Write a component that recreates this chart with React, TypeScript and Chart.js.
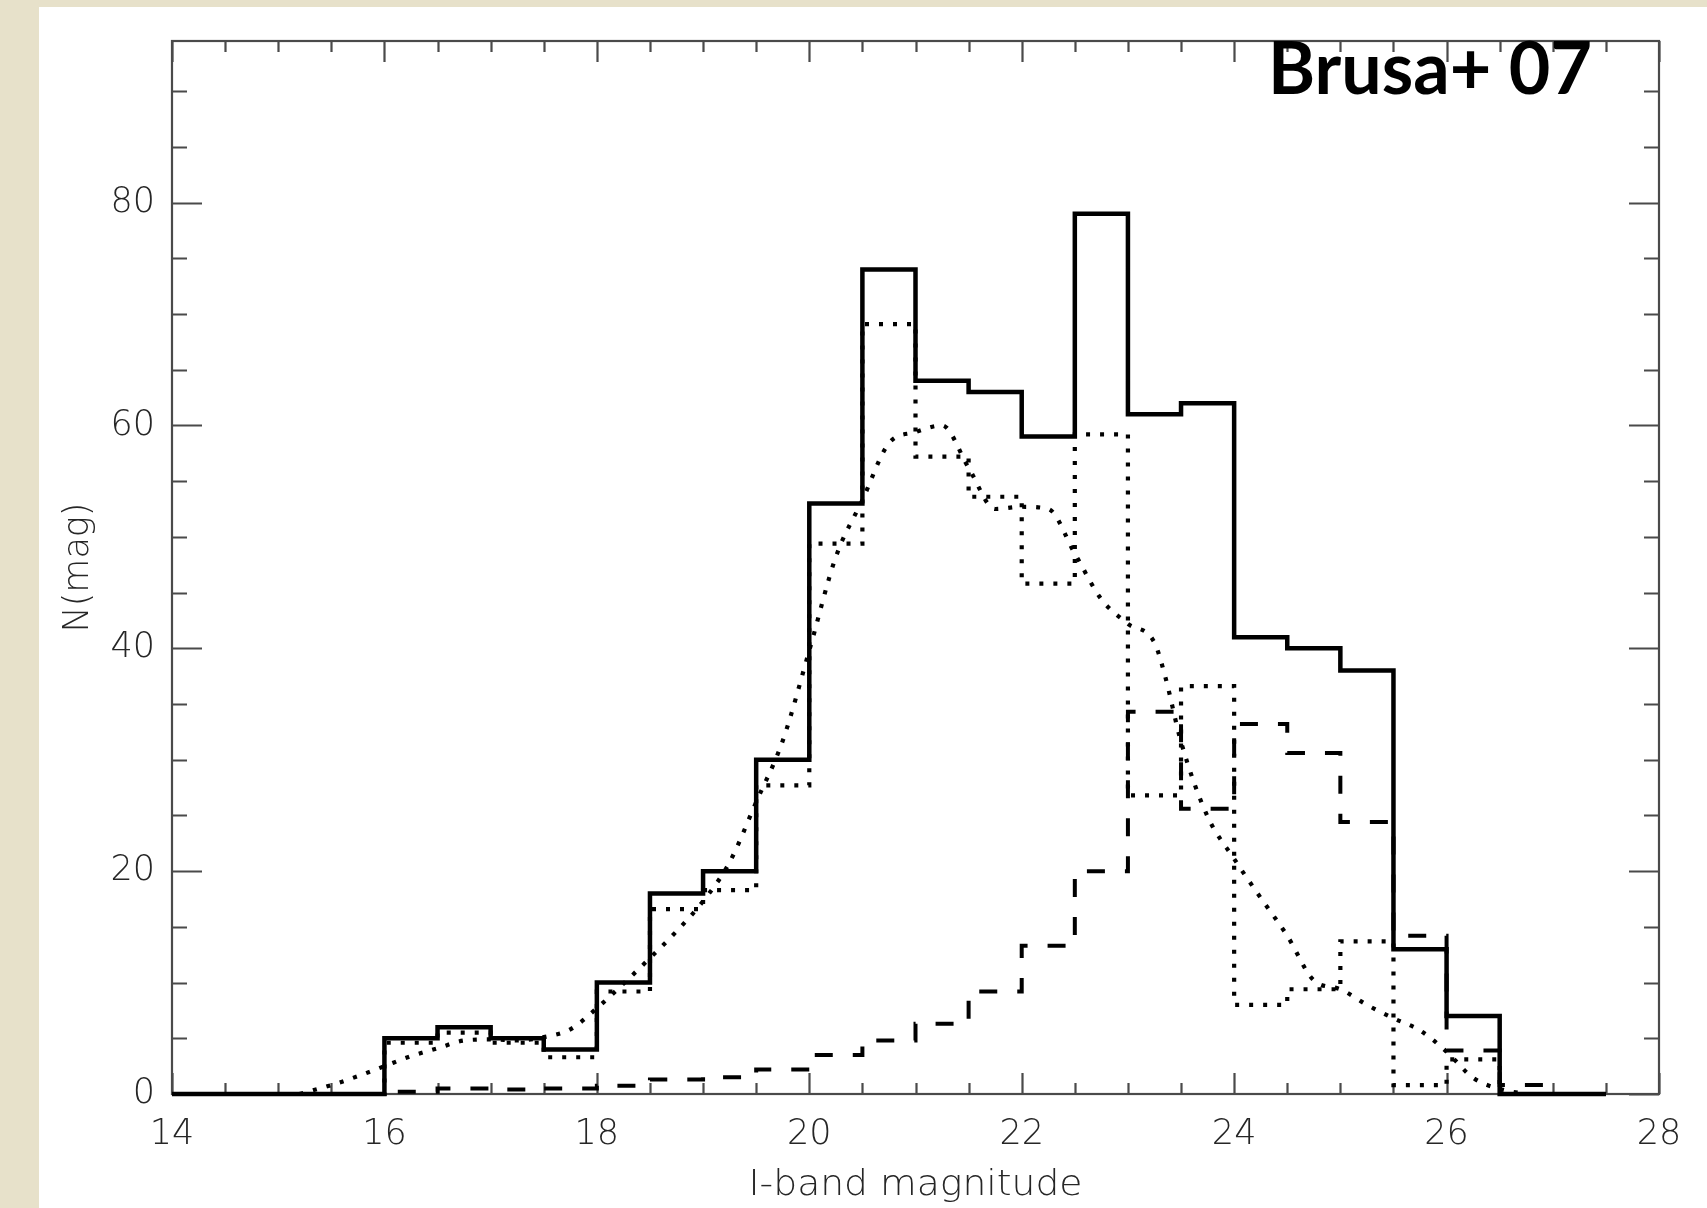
import { useEffect, useRef } from "react";
import { Chart, registerables } from "chart.js";

Chart.register(...registerables);

// Histogram bins: left edges of 0.5-mag bins (the last edge closes the final bin)
const binEdges = [
  14.0, 14.5, 15.0, 15.5, 16.0, 16.5, 17.0, 17.5, 18.0, 18.5, 19.0, 19.5, 20.0, 20.5,
  21.0, 21.5, 22.0, 22.5, 23.0, 23.5, 24.0, 24.5, 25.0, 25.5, 26.0, 26.5, 27.0, 27.5,
];

// Total sample (solid histogram)
const totalCounts = [
  0, 0, 0, 0, 5, 6, 5, 4, 10, 18, 20, 30, 53, 74, 64, 63, 59, 79, 61, 62, 41, 40, 38, 13, 7, 0, 0,
];

// Dotted histogram
const dottedCounts = [
  0, 0, 0, 0, 4.6, 5.5, 4.6, 3.3, 9.2, 16.6, 18.3, 27.7, 49.4, 69.1, 57.2, 53.6, 45.8, 59.2,
  26.8, 36.6, 8.0, 9.4, 13.7, 0.8, 3.1, 0, 0,
];

// Dashed histogram
const dashedCounts = [
  0, 0, 0, 0, 0.2, 0.5, 0.4, 0.5, 0.75, 1.3, 1.5, 2.2, 3.5, 4.8, 6.3, 9.2, 13.3, 20.0, 34.3,
  25.6, 33.2, 30.6, 24.4, 14.2, 3.9, 0.8, 0,
];

// Smooth dotted model curve
const modelMag = [
  15.2, 15.5, 15.75, 16.0, 16.25, 16.5, 16.75, 17.0, 17.25, 17.5, 17.75, 18.0, 18.25, 18.5,
  18.75, 19.0, 19.25, 19.5, 19.75, 20.0, 20.25, 20.5, 20.75, 21.0, 21.25, 21.5, 21.75, 22.0,
  22.25, 22.5, 22.75, 23.0, 23.25, 23.35, 23.5, 23.75, 24.0, 24.25, 24.5, 24.75, 25.0, 25.25,
  25.5, 25.75, 26.0, 26.25, 26.5, 26.75,
];
const modelN = [
  0, 0.8, 1.6, 2.5, 3.4, 4.1, 4.8, 4.9, 4.8, 5.1, 5.8, 7.7, 9.9, 12.2, 14.6, 17.3, 20.8, 26.2,
  31.7, 39.8, 48.2, 53.3, 58.4, 59.4, 60.0, 56.2, 52.5, 52.7, 52.5, 48.5, 44.4, 42.2, 40.5,
  37.5, 31.6, 24.9, 21.1, 17.6, 14.2, 10.2, 9.4, 8.0, 6.8, 5.7, 3.8, 1.45, 0.45, 0,
];

// Axis setup
const xMin = 14;
const xMax = 28;
const xTickStep = 2;
const yMin = 0;
const yMax = 94.5;
const yTickStep = 20;

const xTitle = "I-band magnitude";
const yTitle = "N(mag)";
const cornerLabel = "Brusa+ 07";

const W = 1707;
const H = 1208;
const TEXT_FONT = "'DejaVu Sans', sans-serif";
const AXIS_COLOR = "#4a4a4a";
const TEXT_COLOR = "#262626";

function histPoints(counts: number[]) {
  const pts = counts.map((v, i) => ({ x: binEdges[i], y: v }));
  pts.push({ x: binEdges[binEdges.length - 1], y: counts[counts.length - 1] });
  return pts;
}

const framePlugin = {
  id: "frame",
  beforeDraw(chart: any) {
    const { ctx } = chart;
    ctx.save();
    ctx.fillStyle = "#e7e1ca";
    ctx.fillRect(0, 0, W, H);
    ctx.fillStyle = "#ffffff";
    ctx.fillRect(39, 7, W - 39, H - 7);
    ctx.restore();
  },
  beforeDatasetsDraw(chart: any) {
    const { ctx, chartArea } = chart;
    const { left, right, top, bottom } = chartArea;
    const xs = chart.scales.x;
    const ys = chart.scales.y;
    ctx.save();
    ctx.strokeStyle = AXIS_COLOR;
    ctx.lineWidth = 2.2;
    ctx.strokeRect(left, top, right - left, bottom - top);
    ctx.beginPath();
    for (let v = xMin; v <= xMax + 1e-9; v += 0.5) {
      const px = Math.round(xs.getPixelForValue(v)) + 0.5;
      const major = Math.abs(v / xTickStep - Math.round(v / xTickStep)) < 1e-6;
      const len = major ? 21 : 11;
      ctx.moveTo(px, bottom);
      ctx.lineTo(px, bottom - len);
      ctx.moveTo(px, top);
      ctx.lineTo(px, top + len);
    }
    for (let v = yMin; v <= yMax + 1e-9; v += 5) {
      const py = Math.round(ys.getPixelForValue(v)) + 0.5;
      const major = Math.abs(v / yTickStep - Math.round(v / yTickStep)) < 1e-6;
      const len = major ? 30 : 15;
      ctx.moveTo(left, py);
      ctx.lineTo(left + len, py);
      ctx.moveTo(right, py);
      ctx.lineTo(right - len, py);
    }
    ctx.stroke();
    ctx.restore();
  },
  afterDraw(chart: any) {
    const { ctx, chartArea } = chart;
    ctx.save();
    ctx.fillStyle = TEXT_COLOR;
    ctx.font = `200 35px ${TEXT_FONT}`;
    ctx.textAlign = "center";
    ctx.textBaseline = "alphabetic";
    // Axis titles, stretched slightly to the wide look of the plot's font
    const xw = ctx.measureText(xTitle).width;
    ctx.save();
    ctx.translate((chartArea.left + chartArea.right) / 2, 1195);
    ctx.scale(334 / xw, 1);
    ctx.fillText(xTitle, 0, 0);
    ctx.restore();

    ctx.save();
    ctx.translate(88, (chartArea.top + chartArea.bottom) / 2);
    ctx.rotate(-Math.PI / 2);
    ctx.fillText(yTitle, 0, 0);
    ctx.restore();

    // Corner label, bold, fitted to its box
    ctx.fillStyle = "#000000";
    ctx.font = `bold 72px Lato, 'Open Sans', sans-serif`;
    ctx.textAlign = "left";
    const w = ctx.measureText(cornerLabel).width;
    ctx.translate(1268, 94);
    ctx.scale(324 / w, 1);
    ctx.fillText(cornerLabel, 0, 0);
    ctx.restore();
  },
};

export default function App() {
  const canvasRef = useRef<HTMLCanvasElement | null>(null);

  useEffect(() => {
    const canvas = canvasRef.current;
    if (!canvas) return;
    const tickFont = { family: TEXT_FONT, size: 35, weight: 200 as any };

    const dotted = {
      borderColor: "#000000",
      borderWidth: 4.2,
      borderDash: [4, 10],
      borderCapStyle: "butt" as const,
      pointRadius: 0,
      fill: false,
      clip: false as any,
    };

    const chart = new Chart(canvas, {
      type: "line",
      data: {
        datasets: [
          {
            label: "total",
            data: histPoints(totalCounts),
            stepped: "before",
            borderColor: "#000000",
            borderWidth: 4.5,
            pointRadius: 0,
            fill: false,
            clip: false as any,
          },
          {
            label: "dotted",
            data: histPoints(dottedCounts),
            stepped: "before",
            ...dotted,
          },
          {
            label: "dashed",
            data: histPoints(dashedCounts),
            stepped: "before",
            borderColor: "#000000",
            borderWidth: 4,
            borderDash: [18, 20],
            borderCapStyle: "butt",
            pointRadius: 0,
            fill: false,
            clip: false as any,
          },
          {
            label: "model",
            data: modelMag.map((m, i) => ({ x: m, y: modelN[i] })),
            cubicInterpolationMode: "monotone",
            ...dotted,
          },
        ],
      },
      options: {
        animation: false,
        responsive: false,
        maintainAspectRatio: false,
        devicePixelRatio: 1,
        layout: { padding: { top: 41, right: 48, left: 0, bottom: 0 } },
        plugins: {
          legend: { display: false },
          tooltip: { enabled: false },
          title: { display: false },
        },
        scales: {
          x: {
            type: "linear",
            min: xMin,
            max: xMax,
            grid: { display: false, drawTicks: false },
            border: { display: false },
            ticks: {
              stepSize: xTickStep,
              color: TEXT_COLOR,
              font: tickFont,
              padding: 20,
              maxRotation: 0,
              includeBounds: false,
            },
            afterFit: (s: any) => {
              s.height = H - 1094;
            },
          },
          y: {
            type: "linear",
            min: yMin,
            max: yMax,
            grid: { display: false, drawTicks: false },
            border: { display: false },
            ticks: {
              stepSize: yTickStep,
              color: TEXT_COLOR,
              font: tickFont,
              padding: 17,
              includeBounds: false,
            },
            afterFit: (s: any) => {
              s.width = 172;
            },
          },
        },
      },
      plugins: [framePlugin],
    });

    return () => chart.destroy();
  }, []);

  return (
    <div style={{ position: "fixed", left: 0, top: 0, width: W, height: H }}>
      <canvas ref={canvasRef} width={W} height={H} style={{ display: "block", width: W, height: H }} />
    </div>
  );
}
